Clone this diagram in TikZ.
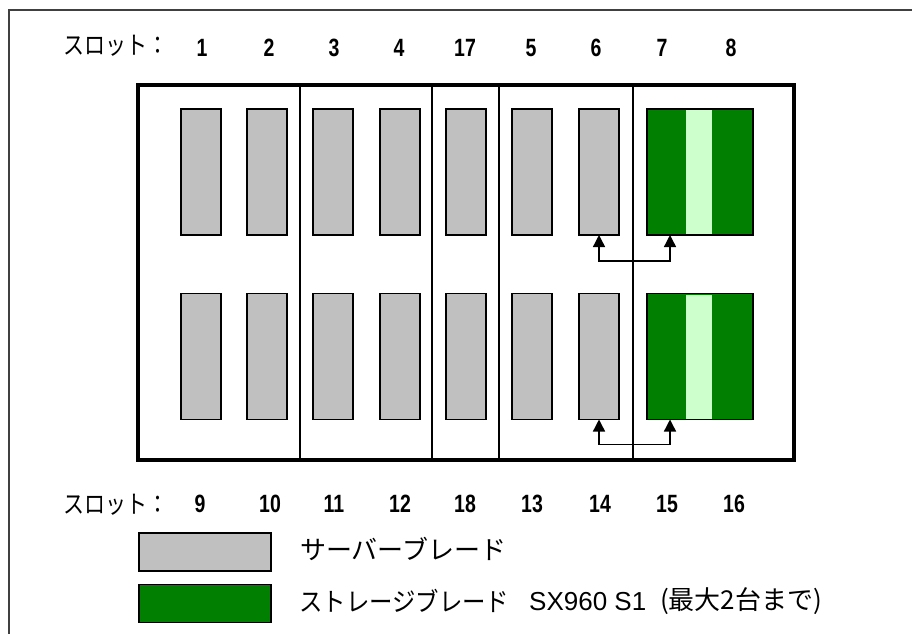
\documentclass[tikz,border=0pt]{standalone}
\usepackage{fontspec}
\setmainfont{Liberation Sans}
\newfontfamily\jpfont{Noto Sans CJK JP}
\usetikzlibrary{arrows.meta,calc}
\definecolor{srvgray}{HTML}{C0C0C0}
\definecolor{stgreen}{HTML}{007F00}
\definecolor{ltgreen}{HTML}{CCFFCC}
\definecolor{framegray}{HTML}{404040}
\begin{document}
\begin{tikzpicture}[x=1pt,y=-1pt,
  blade/.style={draw=black,line width=1.6pt,fill=srvgray,minimum width=40pt,minimum height=126pt,inner sep=0pt,outer sep=0pt},
  stor/.style={fill=stgreen,minimum width=106pt,minimum height=126pt,inner sep=0pt,outer sep=0pt},
  storframe/.style={draw=black,line width=1.6pt,minimum width=106pt,minimum height=126pt,inner sep=0pt,outer sep=0pt},
  stlight/.style={fill=ltgreen,minimum width=26pt,minimum height=124pt,inner sep=0pt,outer sep=0pt},
  num/.style={font=\fontsize{25}{25}\selectfont\bfseries,inner sep=0pt},
  jp/.style={font=\jpfont\fontsize{25}{25}\selectfont,inner sep=0pt},
  jpl/.style={font=\jpfont\fontsize{26}{26}\selectfont,inner sep=0pt},
  lat/.style={font=\fontsize{26}{26}\selectfont,inner sep=0pt},
  divline/.style={line width=1.5pt},
  conn/.style={line width=1.4pt,{Triangle[width=12pt,length=12pt]}-{Triangle[width=12pt,length=12pt]}},
  legbox/.style={draw=black,line width=1.5pt,minimum width=132pt,minimum height=38pt,inner sep=0pt}
]
\useasboundingbox (0,0) rectangle (912,633);
% outer frame (cut off at right and bottom)
\draw[framegray,line width=2.4pt] (9,640) -- (9,10) -- (920,10);
% inner chassis
\node[draw=black,line width=3.2pt,minimum width=656pt,minimum height=375pt,inner sep=0pt] (chassis) at (466,272.5) {};
\foreach \x/\n in {300/a,432/b,499/c,633/d}{
  \coordinate (dt\n) at (\x,85);
  \coordinate (db\n) at (\x,460);
  \draw[divline] (dt\n) -- (db\n);
}
% top row blades
\foreach \x/\n in {201/1,267/2,333/3,400/4,466/17,532/5,599/6}{
  \node[blade] (t\n) at (\x,172) {};
}
% bottom row blades
\foreach \x/\n in {201/9,267/10,333/11,400/12,466/18,532/13,599/14}{
  \node[blade] (b\n) at (\x,356.5) {};
}
% storage blades
\node[stor] (gt) at (700,172) {};
\node[stlight] (lt) at (699,172) {};
\node[storframe] (gtf) at (700,172) {};
\node[stor] (gb) at (700,356.5) {};
\node[stlight] (lb) at (699,356.5) {};
\node[storframe] (gbf) at (700,356.5) {};
% connectors
\coordinate (gta) at ($(gtf.south west)+(23,0)$);
\coordinate (gba) at ($(gbf.south west)+(23,0)$);
\draw[conn] (t6.south) -- ++(0,26) -| (gta);
\draw[conn] (b14.south) -- ++(0,25) -| (gba);
% slot labels top
\node[jp,anchor=west] (slt) at (63,46) {\scalebox{0.84}[1]{スロット：}};
\foreach \x/\n in {202/1,269/2,334/3,399/4,465/17,531/5,596/6,662/7,731/8}{
  \node[num] (nt\n) at (\x,48) {\scalebox{0.78}[1]{\n}};
}
% slot labels bottom
\node[jp,anchor=west] (slb) at (63,505) {\scalebox{0.84}[1]{スロット：}};
\foreach \x/\n in {200/9,270/10,334/11,400/12,465/18,532/13,600/14,667/15,734/16}{
  \node[num] (nb\n) at (\x,504) {\scalebox{0.78}[1]{\n}};
}
% legend
\node[legbox,fill=srvgray] (lg1) at (205,552) {};
\node[legbox,fill=stgreen] (lg2) at (205,603.5) {};
\node[jpl,anchor=west] (lt1) at (300,549) {サーバーブレード};
\node[jpl,anchor=west] (lt2a) at (299,601) {\scalebox{0.9}[1]{ストレージブレード}};
\node[lat,anchor=west] (lt2b) at (529,602) {SX960 S1};
\node[jpl,anchor=west] (lt2c) at (660,601) {(最大2台まで)};
\end{tikzpicture}
\end{document}
